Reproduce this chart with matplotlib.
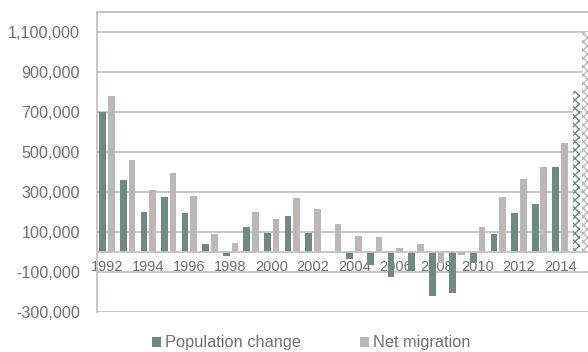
import numpy as np
import matplotlib.pyplot as plt
from matplotlib.patches import Patch

years = list(range(1992, 2016))
pop_change = [700000, 362000, 200000, 277000, 194000, 42000, -22000, 124000, 96000, 179000,
              94000, -4000, -34000, -66000, -126000, -96000, -219000, -204000, -54000, 89000,
              194000, 241000, 427000, 804000]
net_migration = [782000, 462000, 312000, 397000, 281000, 91000, 46000, 201000, 166000, 271000,
                 217000, 141000, 79000, 76000, 19000, 41000, -56000, -16000, 124000, 277000,
                 367000, 427000, 547000, 1099000]
projected = [False] * 23 + [True]
year_labels = [str(y) if y % 2 == 0 and y < 2015 else "" for y in years]

green = "#6f8a7e"
grey = "#bcb7b2"
grid_c = "#c6c1bc"
text_c = "#707070"

plt.rcParams['font.family'] = ['Liberation Sans', 'DejaVu Sans']
plt.rcParams['axes.unicode_minus'] = False

fig = plt.figure(figsize=(5.88, 3.52), dpi=100)
ax = fig.add_axes([96.7 / 588, 1 - 312 / 352, (591 - 96.7) / 588, 300 / 352])

x = np.arange(len(years))
w = 0.325
off = 0.21
for i in x:
    if projected[i]:
        ax.bar(i - off, pop_change[i], w, facecolor="white", edgecolor=green,
               hatch="xxxx", linewidth=0, zorder=3)
        ax.bar(i + off, net_migration[i], w, facecolor="white", edgecolor=grey,
               hatch="xxxx", linewidth=0, zorder=3)
    else:
        ax.bar(i - off, pop_change[i], w, color=green, zorder=3)
        ax.bar(i + off, net_migration[i], w, color=grey, zorder=3)

ax.set_xlim(-0.5, len(years) - 0.5)
ax.set_ylim(-300000, 1200000)
ax.set_yticks(np.arange(-300000, 1100001, 200000))
ax.yaxis.set_major_formatter(plt.FuncFormatter(lambda v, p: f"{int(v):,}"))
ax.grid(axis="y", color=grid_c, linewidth=1.3, zorder=0)
ax.set_axisbelow(True)

ax.set_xticks(x)
ax.set_xticklabels(year_labels)
ax.spines['bottom'].set_position(('data', 0))
ax.spines['bottom'].set_color(grid_c)
ax.spines['bottom'].set_linewidth(1.3)
ax.spines['bottom'].set_zorder(4)
for s in ['left', 'top', 'right']:
    ax.spines[s].set_color(grid_c)
    ax.spines[s].set_linewidth(1.3)
ax.tick_params(axis="x", length=0, pad=6, labelsize=10.5, labelcolor=text_c)
ax.tick_params(axis="y", length=0, pad=12, labelsize=11.6, labelcolor=text_c)
for lbl in ax.get_xticklabels():
    lbl.set_zorder(5)

handles = [Patch(facecolor=green, label="Population change"),
           Patch(facecolor=grey, label="Net migration")]
fig.legend(handles=handles, loc="center", bbox_to_anchor=(311 / 588, 1 - 343 / 352),
           ncol=2, frameon=False, fontsize=11.8, labelcolor=text_c,
           handlelength=0.55, handleheight=0.6, handletextpad=0.25, columnspacing=3.6)

fig.savefig("out.png", dpi=100)
